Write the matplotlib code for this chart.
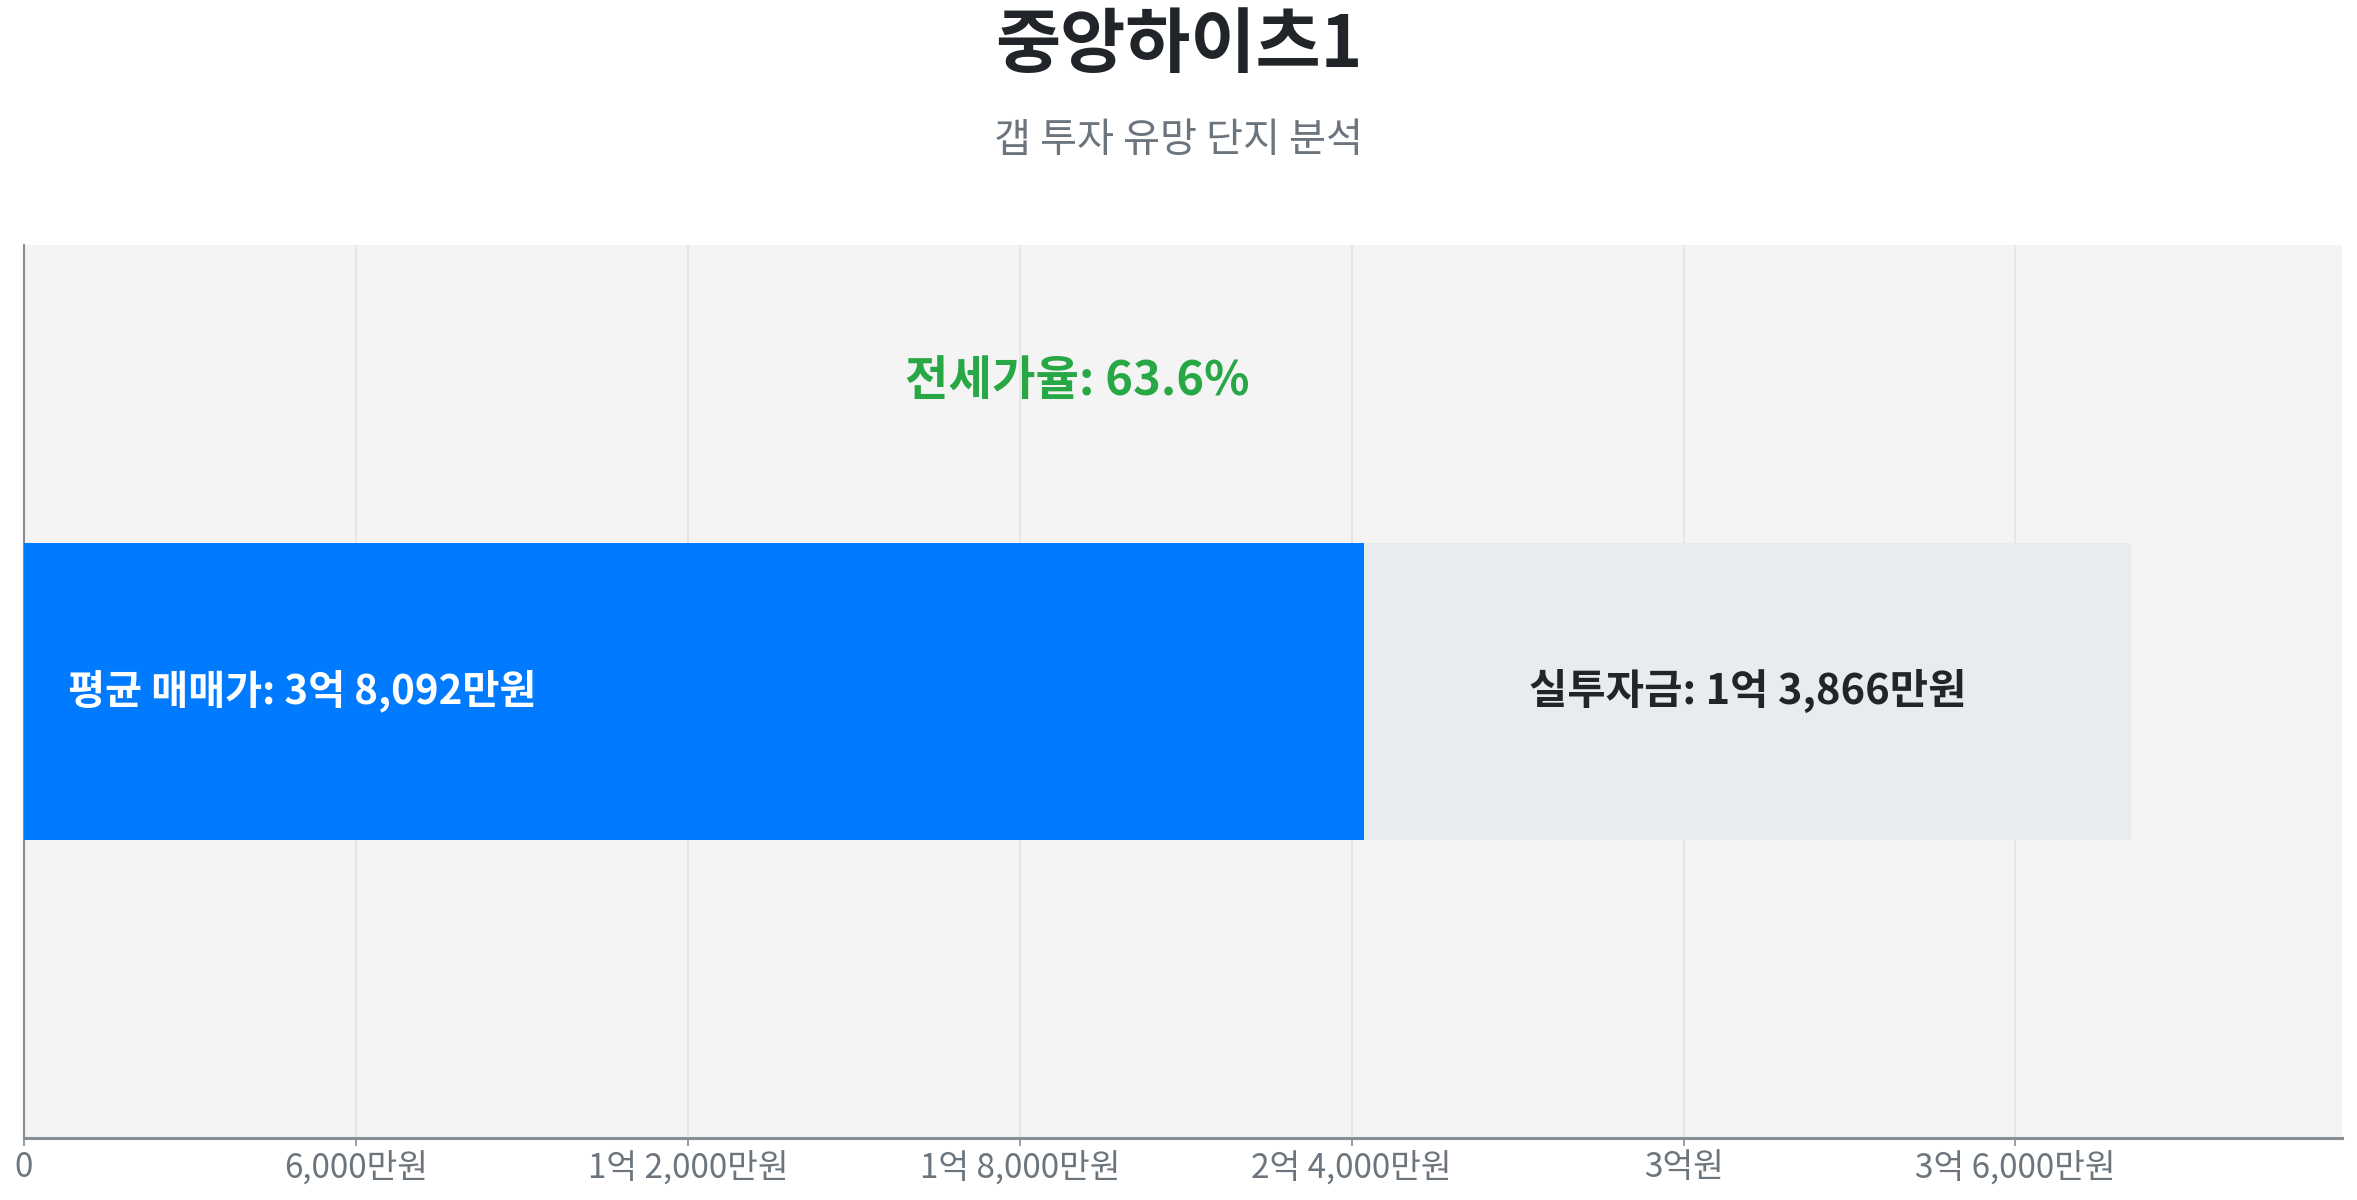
import matplotlib
matplotlib.use("Agg")
import matplotlib.pyplot as plt
from matplotlib.ticker import FuncFormatter

plt.rcParams['font.family'] = ['Noto Sans CJK KR', 'DejaVu Sans']

title = "중앙하이츠1"
subtitle = "갭 투자 유망 단지 분석"
avg_price = 38092      # 만원
invest = 13866         # 만원
jeonse = avg_price - invest
jeonse_ratio = 63.6
tick_values = [0, 6000, 12000, 18000, 24000, 30000, 36000]


def fmt_won(v):
    v = int(round(v))
    if v == 0:
        return "0"
    eok, man = divmod(v, 10000)
    if eok and man:
        return f"{eok}억 {man:,}만원"
    if eok:
        return f"{eok}억원"
    return f"{man:,}만원"


fig = plt.figure(figsize=(23.57, 12), dpi=100)
ax = fig.add_axes([0.0102, 0.0517, 0.9834, 0.7443])
ax.set_facecolor('#f4f4f4')

ax.barh([0], [jeonse], left=[0], height=1/3, color='#007bff', zorder=3)
ax.barh([0], [invest], left=[jeonse], height=1/3, color='#e9ecef', zorder=3)

ax.set_xlim(0, avg_price * 1.1)
ax.set_ylim(-0.5, 0.5)
ax.set_yticks([])
ax.set_xticks(tick_values)
ax.xaxis.set_major_formatter(FuncFormatter(lambda v, p: fmt_won(v)))
ax.grid(axis='x', color='#e4e4e4', linewidth=1.2, zorder=0)
ax.tick_params(axis='x', length=6, width=1.2, color='#868e96',
               labelsize=24, labelcolor='#6c757d', pad=3)

for s in ['top', 'right']:
    ax.spines[s].set_visible(False)
ax.spines['bottom'].set_color('#868e96')
ax.spines['bottom'].set_linewidth(2.2)
ax.spines['left'].set_color('#868e96')
ax.spines['left'].set_linewidth(1.5)

ax.text(avg_price * 0.0207, 0, f"평균 매매가: {fmt_won(avg_price)}",
        color='white', fontsize=29, fontweight='bold', va='center', ha='left', zorder=4)
ax.text(jeonse + invest / 2, 0, f"실투자금: {fmt_won(invest)}",
        color='#212529', fontsize=30, fontweight='bold', va='center', ha='center', zorder=4)
ax.text(avg_price / 2, 0.348, f"전세가율: {jeonse_ratio}%",
        color='#28a745', fontsize=34, fontweight='bold', va='center', ha='center', zorder=4)

fig.text(0.5, 0.962, title, ha='center', va='center', fontsize=51,
         fontweight='bold', color='#212529')
fig.text(0.5, 0.883, subtitle, ha='center', va='center', fontsize=29,
         color='#6c757d')

fig.savefig("out.png", dpi=100, facecolor='white')
